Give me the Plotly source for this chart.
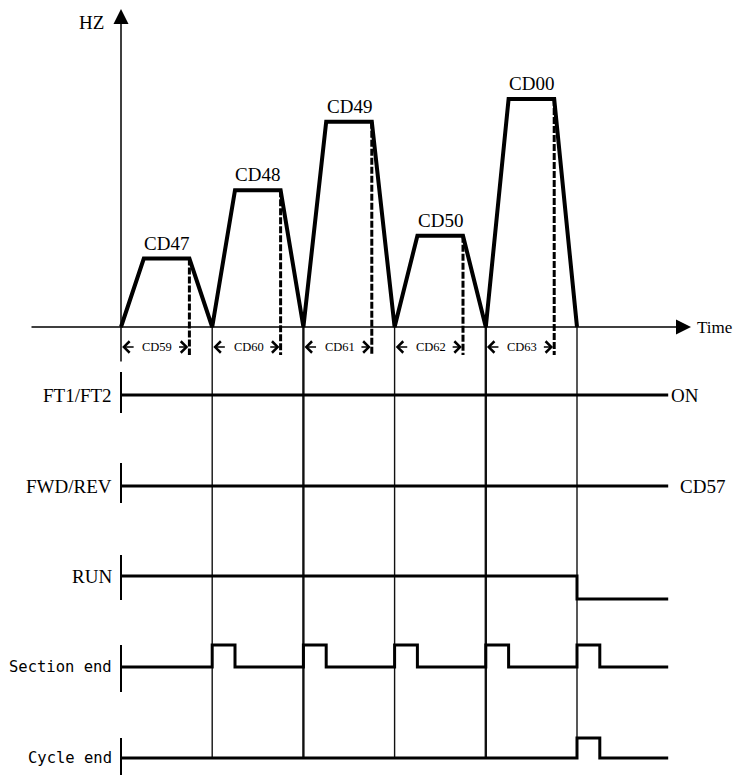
import plotly.graph_objects as go

# ---------------- data ----------------
segment_labels = ["CD47", "CD48", "CD49", "CD50", "CD00"]
segment_freq_hz = [15, 30, 45, 20, 50]
accel_time = [1, 1, 1, 1, 1]
run_time = [2, 2, 2, 2, 2]
decel_time = [1, 1, 1, 1, 1]
segment_time_labels = ["CD59", "CD60", "CD61", "CD62", "CD63"]

signal_names = ["FT1/FT2", "FWD/REV", "RUN", "Section end", "Cycle end"]
signal_right_labels = ["ON", "CD57", "", "", ""]
ft_times = [0, 24]
ft_levels = [1, 1]
fwd_times = [0, 24]
fwd_levels = [1, 1]
run_times = [0, 20, 24]
run_levels = [1, 0, 0]
section_times = [0, 4, 5, 8, 9, 12, 13, 16, 17, 20, 21, 24]
section_levels = [0, 1, 0, 1, 0, 1, 0, 1, 0, 1, 0, 0]
cycle_times = [0, 20, 21, 24]
cycle_levels = [0, 1, 0, 0]

signal_times = [ft_times, fwd_times, run_times, section_times, cycle_times]
signal_levels = [ft_levels, fwd_levels, run_levels, section_levels, cycle_levels]

# ---------------- layout geometry (page pixels) ----------------
OFF = 8                 # default body margin of the page
W, H = 743 - OFF, 783 - 2 * OFF
X0_PX = 121.0           # time origin (page px)
PX_PER_T = 22.8         # px per time unit
ZERO_PX = 327.0         # 0 Hz (page px)
PX_PER_HZ = 4.56
TOP_BOTTOM_PX = 365.0


def pfrac(p):
    return 1 - (p - OFF) / H


def xfrac(p):
    return (p - OFF) / W


def hz_at(p):
    return (ZERO_PX - p) / PX_PER_HZ


def t_at(p):
    return (p - X0_PX) / PX_PER_T


SERIF = "Liberation Serif"
MONO = "DejaVu Sans Mono"

# frequency profile
ft, fv = [0], [0]
run_end_t = []
t = 0
for f, a, r, d in zip(segment_freq_hz, accel_time, run_time, decel_time):
    t += a
    ft.append(t); fv.append(f)
    t += r
    ft.append(t); fv.append(f)
    run_end_t.append(t)
    t += d
    ft.append(t); fv.append(0)
section_end_t = []
t = 0
for a, r, d in zip(accel_time, run_time, decel_time):
    t += a + r + d
    section_end_t.append(t)

fig = go.Figure()

# dashed lines from end of constant run down below axis
dx, dy = [], []
for te, f in zip(run_end_t, segment_freq_hz):
    dx += [te, te, None]
    dy += [f, hz_at(355), None]
fig.add_trace(go.Scatter(x=dx, y=dy, mode="lines",
                         line=dict(color="black", width=3, dash="7px,2px"),
                         hoverinfo="skip"))

fig.add_trace(go.Scatter(x=ft, y=fv, mode="lines",
                         line=dict(color="black", width=4), hoverinfo="skip"))

# signal rows: (level1_px, level0_px, tick_top_px, tick_bottom_px)
rows = [
    (395, 417, 372, 413),
    (486, 508, 463, 503),
    (576, 599, 555, 600),
    (645, 667, 645, 692),
    (738, 758, 738, 782),
]
label_level = [1, 1, 1, 0, 0]

layout_axes = {}
shapes = []
annotations = []
for i, (name, times, levels, (p1, p0, tt, tb)) in enumerate(
        zip(signal_names, signal_times, signal_levels, rows)):
    n = i + 2
    unit = p0 - p1
    top = max(p1 - 28, OFF)
    bot = min(p0 + 28, OFF + H)
    layout_axes[f"yaxis{n}"] = dict(
        domain=[pfrac(bot), pfrac(top)],
        range=[(p0 - bot) / unit, (p0 - top) / unit],
        visible=False, anchor="x", fixedrange=True)
    fig.add_trace(go.Scatter(x=times, y=levels, mode="lines", line_shape="hv",
                             line=dict(color="black", width=3),
                             yaxis=f"y{n}", hoverinfo="skip"))
    shapes.append(dict(type="line", xref="paper", yref="paper",
                       x0=xfrac(X0_PX), x1=xfrac(X0_PX),
                       y0=pfrac(tt), y1=max(pfrac(tb), 0),
                       line=dict(color="black", width=2)))
    annotations.append(dict(text=name, xref="paper", x=xfrac(114), xanchor="right",
                            yref=f"y{n}", y=label_level[i], yanchor="middle",
                            showarrow=False,
                            font=dict(family=MONO if i >= 3 else SERIF,
                                      size=15.5 if i >= 3 else 19, color="black")))
    if signal_right_labels[i]:
        annotations.append(dict(text=signal_right_labels[i], xref="x", x=times[-1],
                                xanchor="left", xshift=1 if i == 0 else 10,
                                yref=f"y{n}", y=1, yanchor="middle", showarrow=False,
                                font=dict(family=SERIF, size=19, color="black")))

# vertical section-boundary lines through all signals
for k, te in enumerate(section_end_t):
    shapes.append(dict(type="line", xref="x", yref="paper", x0=te, x1=te,
                       y0=pfrac(ZERO_PX), y1=pfrac(758),
                       line=dict(color="#111", width=2.4 if k % 2 == 1 else 1.4),
                       layer="below"))

# axis arrows
annotations.append(dict(text="", xref="x", yref="y", x=0, y=hz_at(9),
                        axref="x", ayref="y", ax=0, ay=hz_at(363),
                        showarrow=True, arrowhead=2, arrowsize=2.0, arrowwidth=1.5,
                        arrowcolor="black", standoff=0))
annotations.append(dict(text="", xref="x", yref="y", x=t_at(691), y=0,
                        axref="x", ayref="y", ax=t_at(30), ay=0,
                        showarrow=True, arrowhead=2, arrowsize=2.0, arrowwidth=1.5,
                        arrowcolor="black", standoff=0))
annotations.append(dict(text="Time", xref="x", yref="y", x=t_at(691), y=0,
                        xanchor="left", xshift=4, yanchor="middle", showarrow=False,
                        font=dict(family=SERIF, size=17, color="black")))
annotations.append(dict(text="HZ", xref="x", yref="y", x=0, y=hz_at(22),
                        xanchor="right", xshift=-15, yanchor="middle", showarrow=False,
                        font=dict(family=SERIF, size=19, color="black")))

# peak labels and interval dimension labels
t = 0
dim_y = hz_at(347)
for lab, tlab, f, a, r, d in zip(segment_labels, segment_time_labels,
                                  segment_freq_hz, accel_time, run_time, decel_time):
    annotations.append(dict(text=lab, xref="x", yref="y", x=t + a + r / 2, y=f,
                            yanchor="bottom", yshift=3, showarrow=False,
                            font=dict(family=SERIF, size=19, color="black")))
    t_start, t_end = t, t + a + r
    annotations.append(dict(text=tlab, xref="x", yref="y", x=(t_start + t_end) / 2 + 0.1,
                            y=dim_y, showarrow=False,
                            font=dict(family=SERIF, size=12.5, color="black")))
    annotations.append(dict(text="", xref="x", yref="y", x=t_start + 0.05, y=dim_y,
                            axref="x", ayref="y", ax=t_start + 0.62, ay=dim_y,
                            showarrow=True, arrowhead=4, arrowsize=1.7, arrowwidth=1.3,
                            arrowcolor="black", standoff=0))
    annotations.append(dict(text="", xref="x", yref="y", x=t_end - 0.05, y=dim_y,
                            axref="x", ayref="y", ax=t_end - 0.52, ay=dim_y,
                            showarrow=True, arrowhead=4, arrowsize=1.7, arrowwidth=1.3,
                            arrowcolor="black", standoff=0))
    t += a + r + d

fig.update_layout(
    width=W, height=H, margin=dict(l=0, r=0, t=0, b=0),
    paper_bgcolor="white", plot_bgcolor="rgba(0,0,0,0)", showlegend=False,
    xaxis=dict(range=[t_at(OFF), t_at(OFF + W)], domain=[0, 1], visible=False,
               fixedrange=True),
    yaxis=dict(range=[hz_at(TOP_BOTTOM_PX), hz_at(OFF)],
               domain=[pfrac(TOP_BOTTOM_PX), 1], visible=False, fixedrange=True),
    shapes=shapes, annotations=annotations,
    **layout_axes,
)

fig.write_html("out.html")
